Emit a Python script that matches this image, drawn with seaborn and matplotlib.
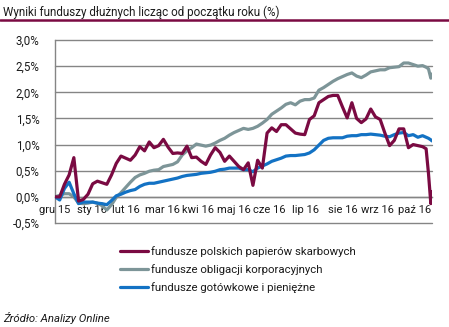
import matplotlib
matplotlib.use("Agg")
import matplotlib.pyplot as plt
import matplotlib.ticker as mticker
import pandas as pd
import seaborn as sns

# Observation dates: every 4 days from 31.12.2015, denser at the end of the period
dates = list(pd.date_range("2015-12-31", "2016-11-08", freq="4D")) + list(
    pd.to_datetime(["2016-11-10", "2016-11-12", "2016-11-14", "2016-11-15"])
)

# Year-to-date returns (%)
skarbowe = [
    0.00, 0.00, 0.24, 0.42, 0.75, -0.08, -0.05, 0.05, 0.25, 0.30,
    0.27, 0.24, 0.42, 0.64, 0.78, 0.74, 0.70, 0.80, 0.96, 0.88,
    1.05, 0.94, 0.98, 1.10, 0.95, 0.83, 0.84, 0.83, 0.97, 0.75,
    0.76, 0.68, 0.62, 0.80, 0.94, 0.85, 0.68, 0.78, 0.68, 0.58,
    0.52, 0.65, 0.22, 0.70, 0.55, 1.22, 1.32, 1.25, 1.38, 1.38,
    1.30, 1.22, 1.20, 1.19, 1.48, 1.55, 1.80, 1.86, 1.92, 1.94,
    1.94, 1.72, 1.51, 1.80, 1.50, 1.42, 1.49, 1.68, 1.53, 1.48,
    1.22, 0.98, 1.08, 1.30, 1.30, 0.94, 1.00, 0.98, 0.96,
    0.92, 0.45, -0.13, 0.10,
]
korporacyjne = [
    0.00, 0.03, 0.06, 0.06, 0.00, -0.12, -0.13, -0.12, -0.10, -0.12,
    -0.17, -0.25, -0.15, -0.01, 0.08, 0.18, 0.28, 0.37, 0.42, 0.45,
    0.49, 0.51, 0.52, 0.58, 0.60, 0.62, 0.67, 0.80, 0.88, 0.94,
    1.01, 0.99, 0.97, 0.99, 1.03, 1.08, 1.12, 1.18, 1.23, 1.27,
    1.31, 1.29, 1.31, 1.35, 1.41, 1.48, 1.58, 1.64, 1.70, 1.77,
    1.80, 1.76, 1.83, 1.86, 1.86, 1.89, 2.04, 2.09, 2.15, 2.21,
    2.26, 2.30, 2.34, 2.37, 2.31, 2.28, 2.33, 2.39, 2.41, 2.43,
    2.43, 2.47, 2.48, 2.49, 2.56, 2.56, 2.53, 2.50, 2.51,
    2.48, 2.45, 2.27, 2.35,
]
gotowkowe = [
    0.00, -0.06, 0.16, 0.28, 0.06, -0.13, -0.10, -0.10, -0.10, -0.12,
    -0.13, -0.15, -0.07, 0.02, 0.05, 0.09, 0.12, 0.14, 0.20, 0.24,
    0.26, 0.26, 0.28, 0.30, 0.32, 0.34, 0.36, 0.39, 0.41, 0.42,
    0.43, 0.45, 0.46, 0.47, 0.49, 0.52, 0.53, 0.55, 0.55, 0.55,
    0.52, 0.52, 0.48, 0.55, 0.59, 0.63, 0.68, 0.71, 0.74, 0.78,
    0.79, 0.79, 0.80, 0.81, 0.84, 0.90, 0.99, 1.08, 1.12, 1.13,
    1.13, 1.13, 1.16, 1.17, 1.17, 1.19, 1.19, 1.20, 1.19, 1.18,
    1.16, 1.15, 1.19, 1.22, 1.23, 1.17, 1.19, 1.14, 1.17,
    1.14, 1.12, 1.09, 1.07,
]

series_names = [
    "fundusze polskich papierów skarbowych",
    "fundusze obligacji korporacyjnych",
    "fundusze gotówkowe i pieniężne",
]
series_colors = ["#7a0a42", "#7d9598", "#1372c4"]

month_ticks = pd.to_datetime([
    "2015-12-31", "2016-01-31", "2016-02-29", "2016-03-31", "2016-04-30",
    "2016-05-31", "2016-06-30", "2016-07-31", "2016-08-31", "2016-09-30",
    "2016-10-31",
])
month_labels = ["gru 15", "sty 16", "lut 16", "mar 16", "kwi 16", "maj 16",
                "cze 16", "lip 16", "sie 16", "wrz 16", "paź 16"]
y_ticks = [-0.5, 0.0, 0.5, 1.0, 1.5, 2.0, 2.5, 3.0]

df = pd.concat([
    pd.DataFrame({"data": dates, "wynik": vals, "fundusz": name})
    for name, vals in zip(series_names, [skarbowe, korporacyjne, gotowkowe])
], ignore_index=True)

sns.set_style("white")
plt.rcParams["font.family"] = ["Roboto", "DejaVu Sans"]
plt.rcParams["text.color"] = "#1a1a1a"

fig = plt.figure(figsize=(4.49, 3.27), dpi=100)
ax = fig.add_axes([55 / 449, 1 - 223 / 327, 377 / 449, 183 / 327])

sns.lineplot(data=df, x="data", y="wynik", hue="fundusz",
             hue_order=series_names, palette=series_colors,
             linewidth=2.3, ax=ax, legend=False)
# grey at the back, cash funds above it, treasury funds on top
for line, z in zip(ax.lines, [4, 2, 3]):
    line.set_zorder(z)
    line.set_solid_joinstyle("round")

grid_color = "#858585"
ax.set_ylim(-0.5, 3.0)
ax.set_xlim(dates[0], dates[-1])
ax.set_yticks(y_ticks)
ax.yaxis.set_major_formatter(mticker.FuncFormatter(
    lambda v, _: f"{v:.1f}%".replace(".", ",")))
ax.set_xticks(month_ticks)
ax.set_xticklabels(month_labels)
ax.set_xlabel("")
ax.set_ylabel("")

for v in y_ticks:
    ax.axhline(v, color=grid_color, lw=1.0, zorder=1, clip_on=False)

for side in ["top", "right"]:
    ax.spines[side].set_visible(False)
ax.spines["left"].set_color(grid_color)
ax.spines["left"].set_linewidth(1.0)
ax.spines["bottom"].set_position(("data", 0))
ax.spines["bottom"].set_color(grid_color)
ax.spines["bottom"].set_linewidth(1.0)

ax.tick_params(axis="y", direction="out", length=3, width=1, color=grid_color,
               pad=8, labelsize=8.3, labelcolor="#1a1a1a")
ax.tick_params(axis="x", direction="out", length=3, width=1, color=grid_color,
               pad=3, labelsize=8.0, labelcolor="#1a1a1a")

# title and its rule
fig.text(3 / 449, 1 - 12 / 327, "Wyniki funduszy dłużnych licząc od początku roku (%)",
         fontsize=8.4, va="center", ha="left")
fig.add_artist(plt.Line2D([0, 1], [1 - 20 / 327, 1 - 20 / 327],
                          color="#7a0a42", lw=1.8, transform=fig.transFigure))

handles = [plt.Line2D([], [], color=c, lw=2.3) for c in series_colors]
fig.legend(handles, series_names, loc="upper left",
           bbox_to_anchor=(120 / 449, 1 - 246 / 327), frameon=False,
           borderpad=0, borderaxespad=0, handlelength=2.45, handletextpad=0.3,
           labelspacing=0.62, fontsize=8.2)

fig.text(3 / 449, 1 - 318 / 327, "Źródło: Analizy Online", fontsize=8.2,
         style="italic", va="center", ha="left")

fig.savefig("out.png", dpi=100)
